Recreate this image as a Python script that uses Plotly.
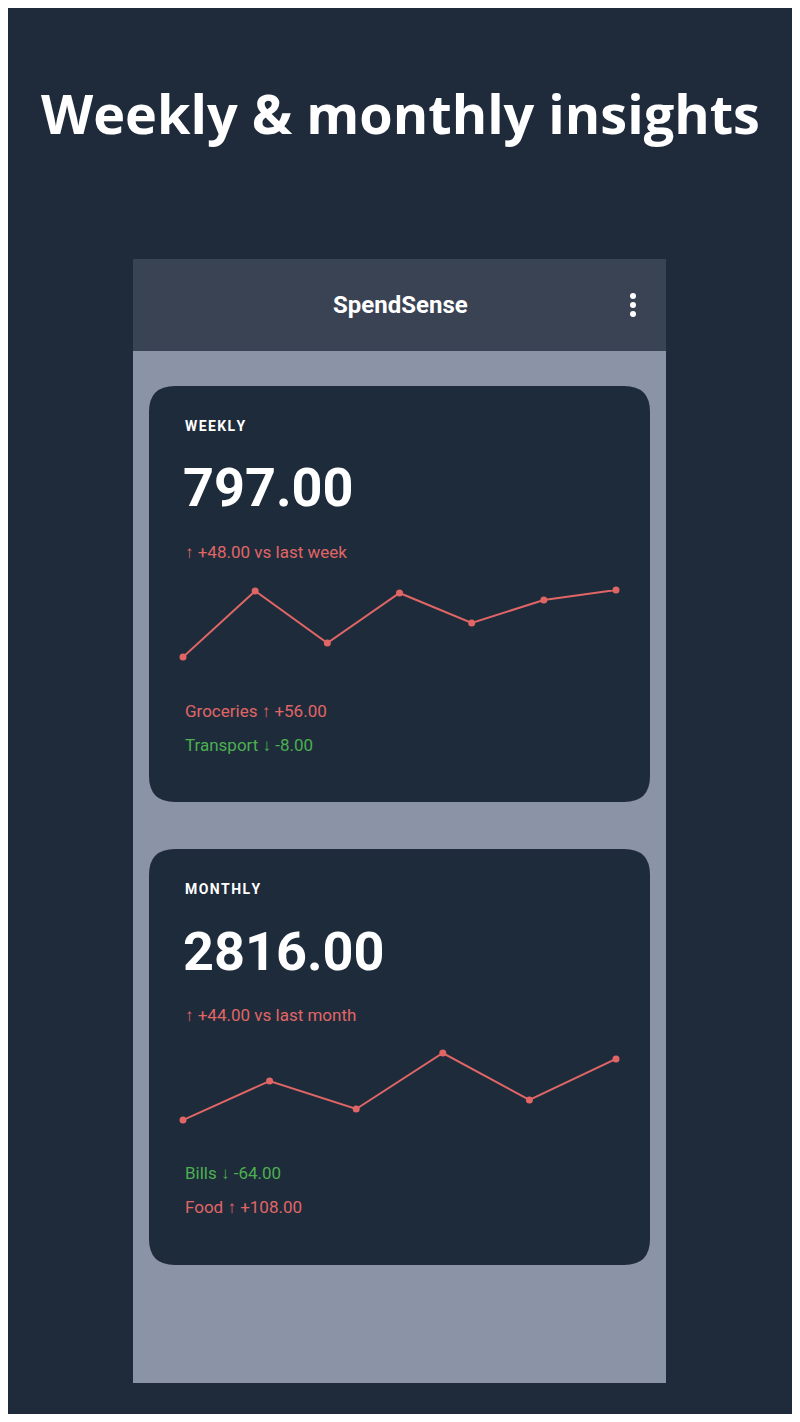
import plotly.graph_objects as go

OFF = 8
W, H = 800 - 2 * OFF, 1422 - 2 * OFF
weekly_days = [0, 1, 2, 3, 4, 5, 6]
weekly_vals = [43, 109, 57, 107, 77, 100, 110]
monthly_pts = [0, 1, 2, 3, 4, 5]
monthly_vals = [80, 119, 91, 147, 100, 141]

RED = "#e06666"
GREEN = "#4caf50"
BG = "#1f2a3a"
CARD = "#1e2b3b"

def fx(px): return (px - OFF) / W
def fy(py): return 1 - (py - OFF) / H

fig = go.Figure()
fig.add_trace(go.Scatter(x=weekly_days, y=weekly_vals, mode="lines+markers", cliponaxis=False,
    line=dict(color=RED, width=2), marker=dict(size=7, color=RED), xaxis="x", yaxis="y", hoverinfo="skip"))
fig.add_trace(go.Scatter(x=monthly_pts, y=monthly_vals, mode="lines+markers", cliponaxis=False,
    line=dict(color=RED, width=2), marker=dict(size=7, color=RED), xaxis="x2", yaxis="y2", hoverinfo="skip"))

def rrect(x0, y0, x1, y1, r, color):
    X0, X1 = fx(x0), fx(x1)
    Y0, Y1 = fy(y1), fy(y0)
    rx, ry = r / W, r / H
    p = (f"M {X0+rx},{Y0} L {X1-rx},{Y0} Q {X1},{Y0} {X1},{Y0+ry} L {X1},{Y1-ry} "
         f"Q {X1},{Y1} {X1-rx},{Y1} L {X0+rx},{Y1} Q {X0},{Y1} {X0},{Y1-ry} "
         f"L {X0},{Y0+ry} Q {X0},{Y0} {X0+rx},{Y0} Z")
    return dict(type="path", path=p, xref="paper", yref="paper", fillcolor=color, line=dict(width=0), layer="below")

def rect(x0, y0, x1, y1, color):
    return dict(type="rect", xref="paper", yref="paper", x0=fx(x0), x1=fx(x1), y0=fy(y1), y1=fy(y0),
                fillcolor=color, line=dict(width=0), layer="below")

shapes = [
    rect(133, 259, 666, 1383, "#8b93a6"),
    rect(133, 259, 666, 351, "#3a4354"),
    rrect(149, 386, 650, 802, 26, CARD),
    rrect(149, 849, 650, 1265, 26, CARD),
]
for cy in (296, 305, 314):
    shapes.append(dict(type="circle", xref="paper", yref="paper", x0=fx(630), x1=fx(636),
                       y0=fy(cy + 3), y1=fy(cy - 3), fillcolor="white", line=dict(width=0)))

def txt(s, x, y, size, color="white", bold=False, anchor="left"):
    return dict(text=f"<b>{s}</b>" if bold else s, x=fx(x), y=fy(y), xref="paper", yref="paper",
                xanchor=anchor, yanchor="middle", showarrow=False,
                font=dict(size=size, color=color, family="Roboto"))

hs = "\u200a"
ann = [
    dict(text="<b>Weekly &amp; monthly insights</b>", x=fx(400), y=fy(113), xref="paper", yref="paper",
         xanchor="center", yanchor="middle", showarrow=False,
         font=dict(size=54, color="white", family="Open Sans")),
    txt("SpendSense", 400, 305, 24, bold=True, anchor="center"),
    txt(hs.join("WEEKLY"), 183, 426, 14, bold=True),
    txt("797.00", 181, 488, 54, bold=True),
    txt("↑ +48.00 vs last week", 183, 552, 17, RED),
    txt("Groceries ↑ +56.00", 183, 711, 17, RED),
    txt("Transport ↓ -8.00", 183, 745, 17, GREEN),
    txt(hs.join("MONTHLY"), 183, 889, 14, bold=True),
    txt("2816.00", 181, 951, 54, bold=True),
    txt("↑ +44.00 vs last month", 183, 1015, 17, RED),
    txt("Bills ↓ -64.00", 183, 1173, 17, GREEN),
    txt("Food ↑ +108.00", 183, 1207, 17, RED),
]

ax = dict(visible=False, showgrid=False, zeroline=False, fixedrange=True)
fig.update_layout(
    width=W, height=H, margin=dict(l=0, r=0, t=0, b=0),
    paper_bgcolor=BG, plot_bgcolor="rgba(0,0,0,0)", showlegend=False,
    shapes=shapes, annotations=ann,
    xaxis=dict(ax, domain=[fx(183), fx(616)], range=[0, 6]),
    yaxis=dict(ax, domain=[fy(657), fy(590)], range=[43, 110]),
    xaxis2=dict(ax, domain=[fx(183), fx(616)], range=[0, 5], anchor="y2"),
    yaxis2=dict(ax, domain=[fy(1120), fy(1053)], range=[80, 147], anchor="x2"),
)
fig.write_html("out.html")
